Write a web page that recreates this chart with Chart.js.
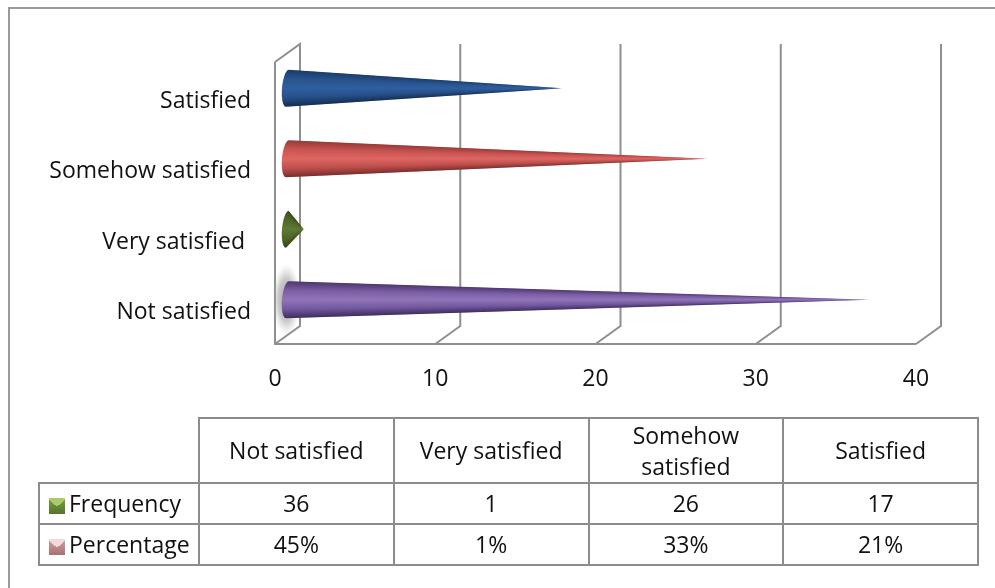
<!DOCTYPE html>
<html>
<head>
<meta charset="utf-8">
<script src="https://cdn.jsdelivr.net/npm/chart.js@4/dist/chart.umd.min.js"></script>
<style>
  html, body { margin: 0; padding: 0; background: #fff; }
  #wrap { position: relative; width: 995px; height: 588px; overflow: hidden; }
  #frame { position: absolute; left: 8px; top: 7px; width: 995px; height: 600px; border-left: 2px solid #9a9a9a; border-top: 2px solid #9a9a9a; }
  #satisfaction { position: absolute; left: 0; top: 0; }
  #dataTable { position: absolute; left: 38px; top: 417px; border-collapse: collapse; table-layout: fixed; width: 941px;
    font-family: "Open Sans", sans-serif; font-size: 23px; line-height: 31px; color: #111; text-align: center; }
  #dataTable td { border: 2px solid #8c8c8c; padding: 0; }
  #dataTable td.blank { border-top: none; border-left: none; }
  #dataTable td.name { text-align: left; padding-left: 9px; white-space: nowrap; }
  #dataTable td.head { padding: 0 12px; }
  .key { display: inline-block; width: 16px; height: 16px; margin-right: 4px; vertical-align: -2px; }
  .key.freq { background: conic-gradient(from 312deg at 50% 55%, #a9cc68 0 96deg, transparent 96deg), linear-gradient(#7d9e42, #55752b); }
  .key.pct { background: conic-gradient(from 312deg at 50% 55%, #f3dada 0 96deg, transparent 96deg), linear-gradient(#d3a0a0, #a97070); }
</style>
</head>
<body>
<div id="wrap">
  <div id="frame"></div>
  <canvas id="satisfaction" width="995" height="588"></canvas>
  <table id="dataTable"></table>
</div>
<script>
var categories = ['Not satisfied', 'Very satisfied ', 'Somehow satisfied', 'Satisfied'];
var frequency = [36, 1, 26, 17];
var percentage = ['45%', '1%', '33%', '21%'];
var xTicks = [0, 10, 20, 30, 40];

// dark edge, mid, light band, mid, dark edge for each cone
var coneColors = [
  ['#4a3568', '#7a5ea6', '#9274b8', '#7258a0', '#3b2a57'],
  ['#3a4e1c', '#50682a', '#5f7a34', '#4e6628', '#2f3f16'],
  ['#933836', '#c95451', '#de6663', '#bf4f4c', '#752b29'],
  ['#1a3a66', '#285490', '#2f5f9f', '#264f88', '#122b4e']
];

var gridColor = '#8f8f8f';
var depthX = 25;
var depthY = 18;

// the 3d box behind the bars, built from the axis ticks
var boxPlugin = {
  id: 'box',
  beforeDatasetsDraw: function (chart) {
    var c = chart.ctx, x = chart.scales.x, area = chart.chartArea;
    c.save();
    c.strokeStyle = gridColor;
    c.lineWidth = 2;
    xTicks.forEach(function (t) {
      var px = x.getPixelForValue(t);
      c.beginPath();
      c.moveTo(px, area.bottom);
      c.lineTo(px + depthX, area.bottom - depthY);
      c.lineTo(px + depthX, area.top - depthY);
      if (t === 0) c.lineTo(px, area.top);
      c.stroke();
    });
    c.beginPath();
    c.moveTo(area.left, area.top);
    c.lineTo(area.left, area.bottom);
    c.lineTo(area.right, area.bottom);
    c.stroke();
    c.restore();
  }
};

// bars are transparent in the chart, the cones are painted over their elements
var conePlugin = {
  id: 'cones',
  afterDatasetsDraw: function (chart) {
    var c = chart.ctx;
    var bars = chart.getDatasetMeta(0).data;
    bars.forEach(function (bar, i) {
      var cy = bar.y - depthY / 2;
      var x0 = bar.base + depthX / 2;
      var tip = x0 + (bar.x - bar.base) * 1.01;
      var half = bar.height / 2;
      var rx = 5.5;
      var fade = Math.min(8, (tip - x0) / 40);

      if (i === 0) {
        var g = c.createRadialGradient(0, 0, 0, 0, 0, 1);
        g.addColorStop(0, 'rgba(120,120,120,0.75)');
        g.addColorStop(0.6, 'rgba(150,150,150,0.5)');
        g.addColorStop(1, 'rgba(190,190,190,0)');
        c.save();
        c.translate(x0 - 1, cy);
        c.scale(14, half * 1.95);
        c.fillStyle = g;
        c.beginPath();
        c.arc(0, 0, 1, 0, Math.PI * 2);
        c.fill();
        c.restore();
      }

      c.save();
      c.beginPath();
      c.moveTo(tip, cy);
      for (var k = 0; k <= 24; k++) {
        var a = -Math.PI / 2 + Math.PI * k / 24;
        c.lineTo(x0 - rx * Math.cos(a) - 1.5 * Math.sin(a), cy + half * Math.sin(a));
      }
      c.closePath();
      c.clip();

      // one column per pixel so the shading narrows with the cone
      for (var px = Math.floor(x0 - rx - 2); px < tip; px++) {
        var h = Math.min(half, half * (tip - px) / (tip - x0)) + 0.5;
        var grad = c.createLinearGradient(0, cy - h, 0, cy + h);
        coneColors[i].forEach(function (col, s) { grad.addColorStop(s / 4, col); });
        c.globalAlpha = Math.min(1, (tip - px) / fade + 0.15);
        c.fillStyle = grad;
        c.fillRect(px, cy - h, 1.2, h * 2);
      }
      c.restore();
    });
  }
};

new Chart(document.getElementById('satisfaction'), {
  type: 'bar',
  data: {
    labels: categories,
    datasets: [{
      label: 'Frequency',
      data: frequency,
      backgroundColor: 'rgba(0,0,0,0)',
      borderWidth: 0,
      categoryPercentage: 1,
      barPercentage: 0.525
    }]
  },
  plugins: [boxPlugin, conePlugin],
  options: {
    indexAxis: 'y',
    responsive: false,
    animation: false,
    layout: { padding: { left: 0, right: 79, top: 62, bottom: 194 } },
    plugins: { legend: { display: false }, tooltip: { enabled: false } },
    scales: {
      x: {
        min: 0,
        max: 40,
        afterFit: function (s) { s.height = 50; },
        grid: { display: false, drawTicks: false },
        border: { display: false },
        ticks: { stepSize: 10, maxRotation: 0, padding: 22, color: '#111', font: { family: 'Open Sans', size: 23 } }
      },
      y: {
        reverse: true,
        afterFit: function (s) { s.width = 275; },
        grid: { display: false, drawTicks: false },
        border: { display: false },
        ticks: { padding: 24, labelOffset: 4, color: '#111', font: { family: 'Open Sans', size: 23 } }
      }
    }
  }
});

// data table under the chart
var rows = '<tr><td class="blank" style="width:159px;height:64px"></td>';
categories.forEach(function (name) { rows += '<td class="head">' + name.trim() + '</td>'; });
rows += '</tr><tr style="height:41px"><td class="name"><span class="key freq"></span>Frequency</td>';
frequency.forEach(function (v) { rows += '<td>' + v + '</td>'; });
rows += '</tr><tr style="height:41px"><td class="name"><span class="key pct"></span>Percentage</td>';
percentage.forEach(function (v) { rows += '<td>' + v + '</td>'; });
rows += '</tr>';
document.getElementById('dataTable').innerHTML = rows;
</script>
</body>
</html>
